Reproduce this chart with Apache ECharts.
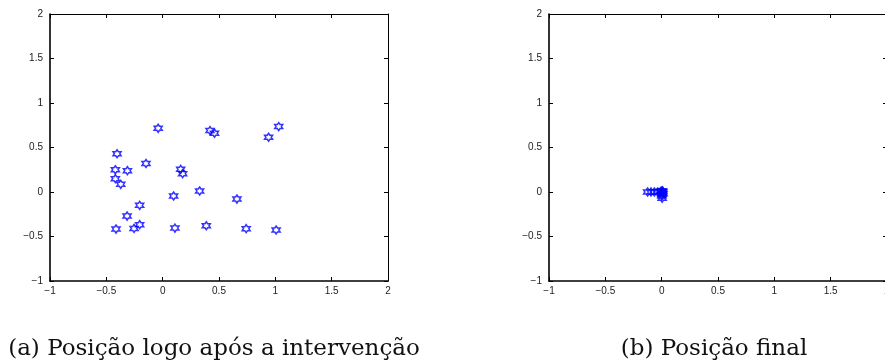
<!DOCTYPE html>
<html>
<head>
<meta charset="utf-8">
<script src="https://cdn.jsdelivr.net/npm/echarts@6/dist/echarts.min.js"></script>
<style>
  html, body { margin: 0; padding: 0; background: #fff; }
  #chart { width: 885px; height: 363px; }
</style>
</head>
<body>
<div id="chart"></div>
<script>
var myChart = echarts.init(document.getElementById("chart"));

// axis ticks (same on both panels)
var xTicks = [-1, -0.5, 0, 0.5, 1, 1.5, 2];
var yTicks = [-1, -0.5, 0, 0.5, 1, 1.5, 2];

// (a) positions just after the intervention
var afterX = [-0.04, 0.42, 0.46, 0.94, 1.03, -0.405, -0.148, -0.42, -0.313, 0.16, 0.177, -0.42, -0.372,
  0.097, 0.328, 0.659, -0.204, -0.316, -0.414, -0.254, -0.204, 0.109, 0.387, 0.741, 1.007];
var afterY = [0.716, 0.69, 0.66, 0.615, 0.735, 0.43, 0.32, 0.25, 0.24, 0.255, 0.206, 0.15, 0.086,
  -0.045, 0.011, -0.079, -0.15, -0.27, -0.416, -0.409, -0.367, -0.405, -0.379, -0.412, -0.427];

// (b) final positions
var finalX = [-0.125, -0.095, -0.065, -0.035, -0.01, 0, 0.005, 0.01, 0.012, 0, 0.004, 0.008, 0.002];
var finalY = [0, 0, 0, 0, 0.005, 0.01, -0.01, 0.004, -0.02, -0.03, -0.07, 0.012, -0.045];

var captions = ["(a) Posição logo após a intervenção", "(b) Posição final"];

var hexagram = "path://M0,-10L2.887,-5L8.66,-5L5.774,0L8.66,5L2.887,5L0,10L-2.887,5L-8.66,5L-5.774,0L-8.66,-5L-2.887,-5Z";

function pairs(xs, ys) {
  return xs.map(function (x, i) { return [x, ys[i]]; });
}

function fmt(v) {
  return String(v).replace("-", "\u2212");
}

var grids = [
  { left: 50, top: 14, width: 338, height: 267, outerBoundsMode: "none", containLabel: false },
  { left: 549, top: 14, width: 338, height: 267, outerBoundsMode: "none", containLabel: false },
];

var xAxes = [];
var yAxes = [];
var series = [];
var datasets = [pairs(afterX, afterY), pairs(finalX, finalY)];

grids.forEach(function (g, gi) {
  ["bottom", "top"].forEach(function (pos) {
    xAxes.push({
      type: "value",
      gridIndex: gi,
      position: pos,
      min: xTicks[0],
      max: xTicks[xTicks.length - 1],
      interval: 0.5,
      axisLine: { show: true, onZero: false, lineStyle: { color: "#000", width: pos === "bottom" ? 1.6 : 1 } },
      axisTick: { show: true, inside: true, length: 4, lineStyle: { color: "#000", width: 1 } },
      axisLabel: {
        show: pos === "bottom",
        color: "#222",
        fontFamily: "Liberation Sans",
        fontSize: 10,
        margin: 5,
        formatter: fmt,
      },
      splitLine: { show: false },
    });
  });
  ["left", "right"].forEach(function (pos) {
    yAxes.push({
      type: "value",
      gridIndex: gi,
      position: pos,
      min: yTicks[0],
      max: yTicks[yTicks.length - 1],
      interval: 0.5,
      axisLine: { show: true, onZero: false, lineStyle: { color: "#000", width: pos === "left" ? 1.6 : 1 } },
      axisTick: { show: true, inside: true, length: 4, lineStyle: { color: "#000", width: 1 } },
      axisLabel: {
        show: pos === "left",
        color: "#222",
        fontFamily: "Liberation Sans",
        fontSize: 10,
        margin: 7,
        formatter: fmt,
      },
      splitLine: { show: false },
    });
  });
  series.push({
    type: "scatter",
    xAxisIndex: gi * 2,
    yAxisIndex: gi * 2,
    symbol: hexagram,
    symbolSize: 8,
    itemStyle: { color: "rgba(0,0,0,0)", borderColor: "#0000ff", borderWidth: 1.5 },
    data: datasets[gi],
    silent: true,
  });
});

var captionStyle = { fontFamily: "DejaVu Serif", fontWeight: "normal", fontSize: 23, color: "#111" };

var option = {
  animation: false,
  title: [
    { text: captions[0], left: 214, textAlign: "center", top: 338, padding: 0, textStyle: captionStyle },
    { text: captions[1], left: 714, textAlign: "center", top: 338, padding: 0, textStyle: captionStyle },
  ],
  grid: grids,
  xAxis: xAxes,
  yAxis: yAxes,
  series: series,
};

myChart.setOption(option);
</script>
</body>
</html>
